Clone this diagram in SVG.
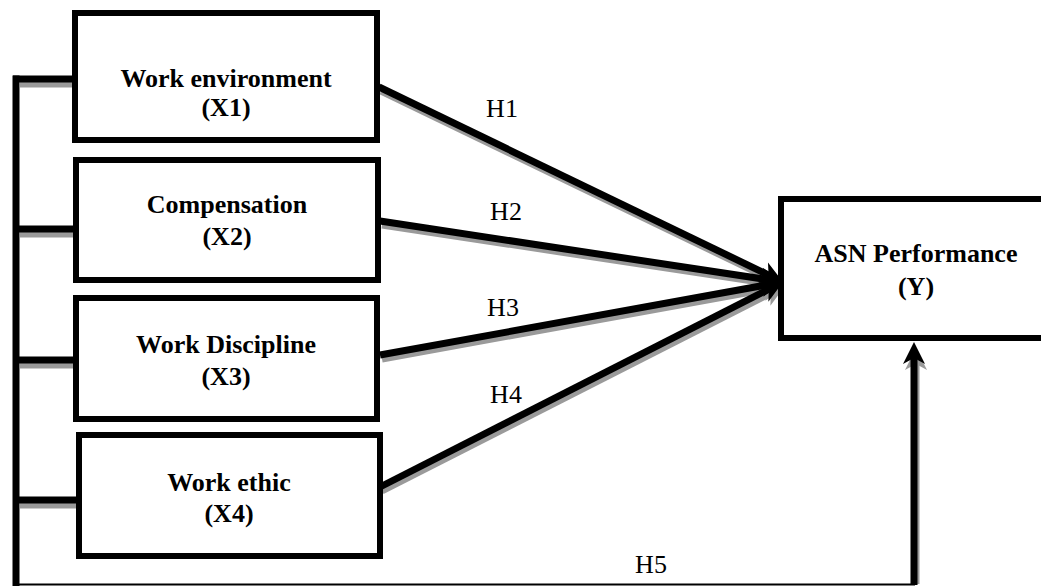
<svg xmlns="http://www.w3.org/2000/svg" width="1041" height="586" viewBox="0 0 1041 586">
<style>
.box{fill:#fff;stroke:#000;stroke-width:6}
.boxsh{fill:none;stroke:#b0b0b0;stroke-width:6}
.lbl{font-family:"Liberation Serif","Times New Roman",serif;font-weight:bold;font-size:26px;fill:#000;text-anchor:middle}
.h{font-family:"Liberation Serif","Times New Roman",serif;font-size:26px;fill:#000;text-anchor:middle}
.ln{stroke:#000;stroke-width:7;fill:none}
.sh{stroke:#9a9a9a;stroke-width:7;fill:none}
</style>
<defs>
<marker id="ah" viewBox="-36 -12 38 24" refX="-12" refY="0" markerWidth="38" markerHeight="24" markerUnits="userSpaceOnUse" orient="auto">
<path d="M0,0 L-22,-11 L-16,0 L-22,11 z" fill="#000"/>
</marker>
<marker id="ahs" viewBox="-36 -12 38 24" refX="-12" refY="0" markerWidth="38" markerHeight="24" markerUnits="userSpaceOnUse" orient="auto">
<path d="M0,0 L-22,-11 L-16,0 L-22,11 z" fill="#9a9a9a"/>
</marker>
</defs>
<rect width="1041" height="586" fill="#fff"/>
<g id="connectors">
<!-- shadows -->
<line class="sh" x1="20" y1="84" x2="74" y2="84"/>
<line class="sh" x1="20" y1="234" x2="74" y2="234"/>
<line class="sh" x1="20" y1="365" x2="74" y2="365"/>
<line class="sh" x1="20" y1="505" x2="77" y2="505"/>
<line class="sh" x1="381" y1="91" x2="774.2" y2="280.8" marker-end="url(#ahs)"/>
<line class="sh" x1="382" y1="225" x2="773.1" y2="284.2" marker-end="url(#ahs)"/>
<line class="sh" x1="382" y1="359" x2="773.2" y2="288.1" marker-end="url(#ahs)"/>
<line class="sh" x1="382" y1="491" x2="774.3" y2="291.4" marker-end="url(#ahs)"/>
<line class="sh" x1="916" y1="584" x2="916" y2="360" marker-end="url(#ahs)"/>
<!-- left bus -->
<line class="ln" x1="16" y1="75.5" x2="16" y2="586"/>
<line class="ln" x1="13" y1="79" x2="75" y2="79"/>
<line class="ln" x1="16" y1="229" x2="76" y2="229"/>
<line class="ln" x1="16" y1="360" x2="76" y2="360"/>
<line class="ln" x1="16" y1="500" x2="79" y2="500"/>
<line x1="16" y1="584.5" x2="915" y2="584.5" stroke="#000" stroke-width="2"/>
<!-- arrows to Y -->
<line class="ln" x1="379" y1="87" x2="772.2" y2="276.8" marker-end="url(#ah)"/>
<line class="ln" x1="380" y1="221" x2="771.1" y2="280.2" marker-end="url(#ah)"/>
<line class="ln" x1="380" y1="355" x2="771.2" y2="284.1" marker-end="url(#ah)"/>
<line class="ln" x1="380" y1="487" x2="772.3" y2="287.4" marker-end="url(#ah)"/>
<line class="ln" x1="914" y1="585" x2="914" y2="354" marker-end="url(#ah)"/>
<text class="h" x="502" y="117">H1</text>
<text class="h" x="506" y="220">H2</text>
<text class="h" x="503" y="316">H3</text>
<text class="h" x="506" y="403">H4</text>
<text class="h" x="651" y="573">H5</text>
</g>
<g id="x1">
<rect class="box" x="75" y="13" width="302" height="127"/>
<text class="lbl" x="226" y="87">Work environment</text>
<text class="lbl" x="226" y="116">(X1)</text>
</g>
<g id="x2">
<rect class="box" x="76" y="160" width="302" height="120"/>
<text class="lbl" x="227" y="213">Compensation</text>
<text class="lbl" x="227" y="245">(X2)</text>
</g>
<g id="x3">
<rect class="box" x="76" y="298" width="301" height="121"/>
<text class="lbl" x="226" y="353">Work Discipline</text>
<text class="lbl" x="226" y="385">(X3)</text>
</g>
<g id="x4">
<rect class="box" x="79" y="435" width="301" height="121"/>
<text class="lbl" x="229" y="491">Work ethic</text>
<text class="lbl" x="229" y="522">(X4)</text>
</g>
<g id="y">
<rect class="box" x="781" y="199" width="270" height="139"/>
<text class="lbl" x="916" y="262">ASN Performance</text>
<text class="lbl" x="916" y="295">(Y)</text>
</g>
</svg>
